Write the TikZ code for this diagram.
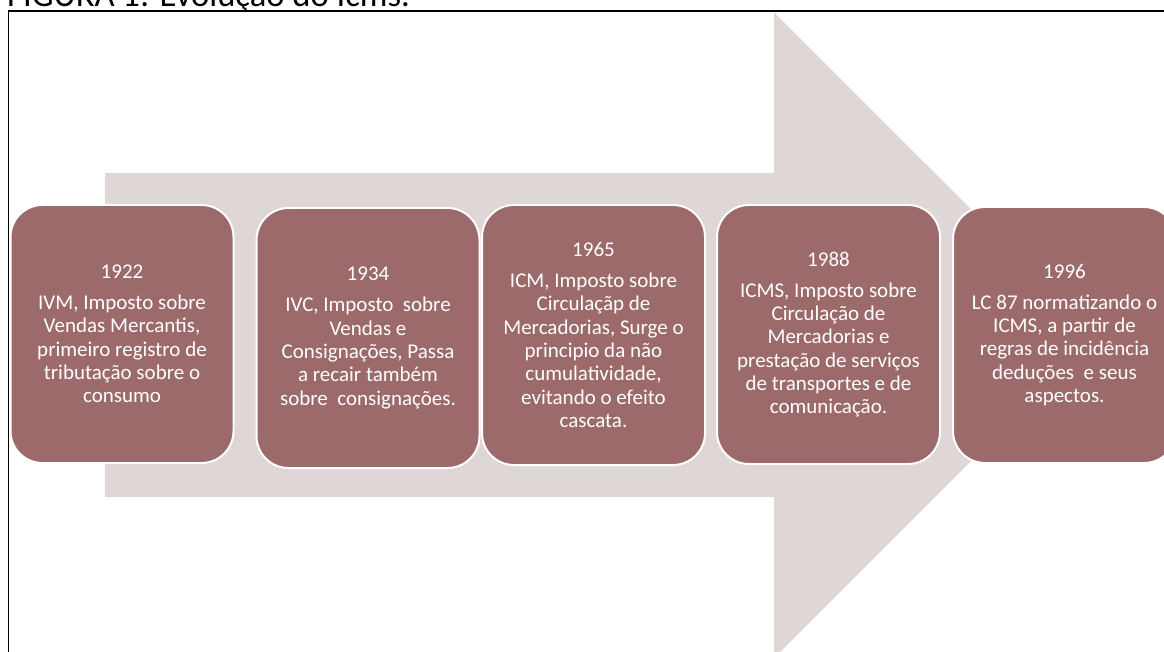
\documentclass[tikz,border=0pt]{standalone}
\usepackage{fontspec}
\setmainfont{Carlito}
\definecolor{boxfill}{RGB}{156,106,106}
\definecolor{arrowfill}{RGB}{223,214,214}
\tikzset{
  evbox/.style={draw=white, line width=2pt, fill=boxfill, rounded corners=32pt,
    minimum width=223pt, text=white, align=center, inner sep=0pt,
    font=\fontsize{21}{23.3}\selectfont},
  framepen/.style={draw=black, line width=1.8pt}
}
\begin{document}
\begin{tikzpicture}[x=1pt,y=-1pt]
\path[clip] (0,0) rectangle (1164,652);
% frame
\coordinate (fbl) at (8.5,700);
\coordinate (ftl) at (8.5,11.2);
\coordinate (ftr) at (1200,11.2);
\draw[framepen] (fbl) -- (ftl) -- (ftr);
% big arrow
\fill[arrowfill] (105,173) -- (774,173) -- (774,12.5) -- (1097,335) -- (774,658) -- (774,497) -- (105,497) -- cycle;
% boxes
\node[evbox, minimum height=258pt] (b1) at (122,334) {1922\\[7.7pt]IVM, Imposto sobre\\Vendas Mercantis,\\primeiro registro de\\tributação sobre o\\consumo};
\node[evbox, minimum height=260pt] (b2) at (368,338) {1934\\[7.7pt]IVC, Imposto~ sobre\\Vendas e\\Consignações, Passa\\a recair também\\sobre~ consignações.};
\node[evbox, minimum height=260pt] (b3) at (593.5,335) {1965\\[7.7pt]ICM, Imposto sobre\\Circulaçãp de\\Mercadorias, Surge o\\principio da não\\cumulatividade,\\evitando o efeito\\cascata.};
\node[evbox, minimum height=259pt] (b4) at (828.5,334.5) {1988\\[7.7pt]ICMS, Imposto sobre\\Circulação de\\Mercadorias e\\prestação de serviços\\de transportes e de\\comunicação.};
\node[evbox, minimum height=256pt] (b5) at (1064.5,335) {1996\\[7.7pt]LC 87 normatizando o\\ICMS, a partir de\\regras de incidência\\deduções~ e seus\\aspectos.};
% title (cut off at top, as in the reference)
\node[anchor=base west, inner sep=0pt, font=\fontsize{34.6}{38}\selectfont] (title) at (7,6.5) {FIGURA 1: Evolução do Icms.};
\end{tikzpicture}
\end{document}
